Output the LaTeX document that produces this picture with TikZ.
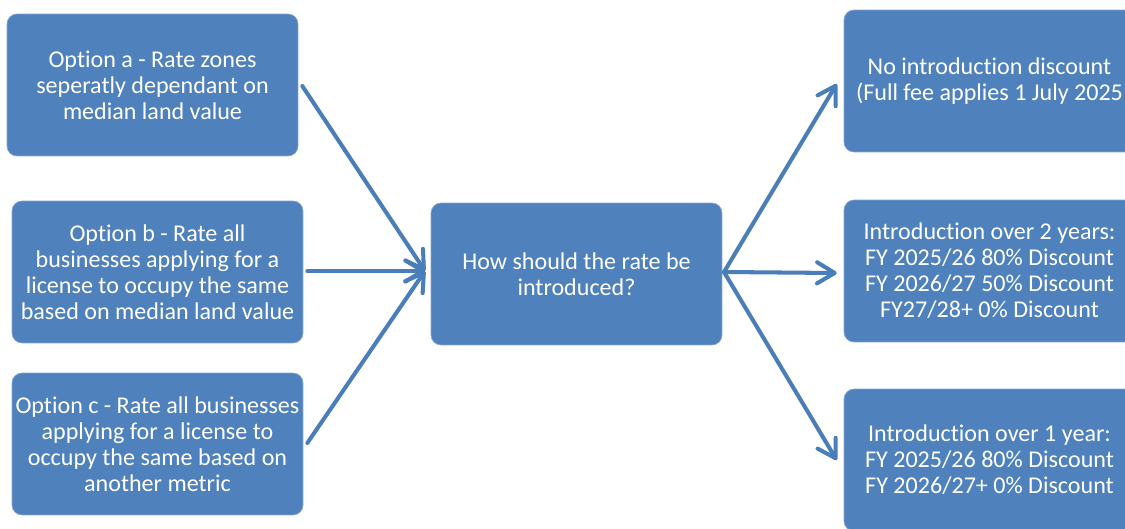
\documentclass[tikz,border=0pt]{standalone}
\usepackage{fontspec}
\setmainfont{Carlito}[Ligatures=NoCommon]
\usetikzlibrary{arrows.meta, positioning}
\definecolor{boxblue}{HTML}{4F81BD}
\definecolor{lineblue}{HTML}{4A7EBB}
\tikzset{
    optbox/.style={rectangle, draw=boxblue!70!white, thin, rounded corners=0.2cm, fill=boxblue, text=white, align=center,
        minimum width=5.82cm, minimum height=2.84cm, inner sep=0pt, font=\fontsize{13.7}{14.8}\selectfont},
    flow/.style={draw=lineblue, line width=2.3pt, line cap=round,
        -{Straight Barb[length=10pt, width=12pt, line cap=round, line join=round]}}
}
\begin{document}
\begin{tikzpicture}[x=0.02cm, y=-0.02cm]
        % picture frame
        \clip (0,0) rectangle (1125,528);
        \fill[white] (0,0) rectangle (1125,528);

        % options on the left
        \node[optbox] (optA) at (152.5,85) {Option a - Rate zones\\seperatly dependant on\\median land value};
        \node[optbox] (optB) at (157.5,272) {Option b - Rate all\\businesses applying for a\\license to occupy the same\\based on median land value};
        \node[optbox] (optC) at (157.5,444) {Option c - Rate all businesses\\applying for a license to\\occupy the same based on\\another metric};

        % question in the middle
        \node[optbox] (rate) at (576.5,274) {How should the rate be\\introduced?};

        % introduction choices on the right (cut off by the frame)
        \node[optbox] (noDisc) at (989.5,81) {No introduction discount\\(Full fee applies 1 July 2025};
        \node[optbox] (twoYr) at (989.5,271) {Introduction over 2 years:\\FY 2025/26 80\% Discount\\FY 2026/27 50\% Discount\\FY27/28+ 0\% Discount};
        \node[optbox] (oneYr) at (989.5,460) {Introduction over 1 year:\\FY 2025/26 80\% Discount\\FY 2026/27+ 0\% Discount};

        % arrows into the question
        \coordinate (inR) at (425,271);
        \draw[flow] ([shift={(4,1)}]optA.east) -- (inR);
        \draw[flow] ([shift={(4,-1)}]optB.east) -- (inR);
        \draw[flow] ([shift={(4,-1)}]optC.east) -- (inR);

        % arrows out of the question
        \coordinate (outL) at (724,272);
        \draw[flow] (outL) -- ([shift={(-7,3)}]noDisc.west);
        \draw[flow] (outL) -- ([shift={(-7,2)}]twoYr.west);
        \draw[flow] (outL) -- ([shift={(-7,0)}]oneYr.west);

    \end{tikzpicture}
\end{document}
